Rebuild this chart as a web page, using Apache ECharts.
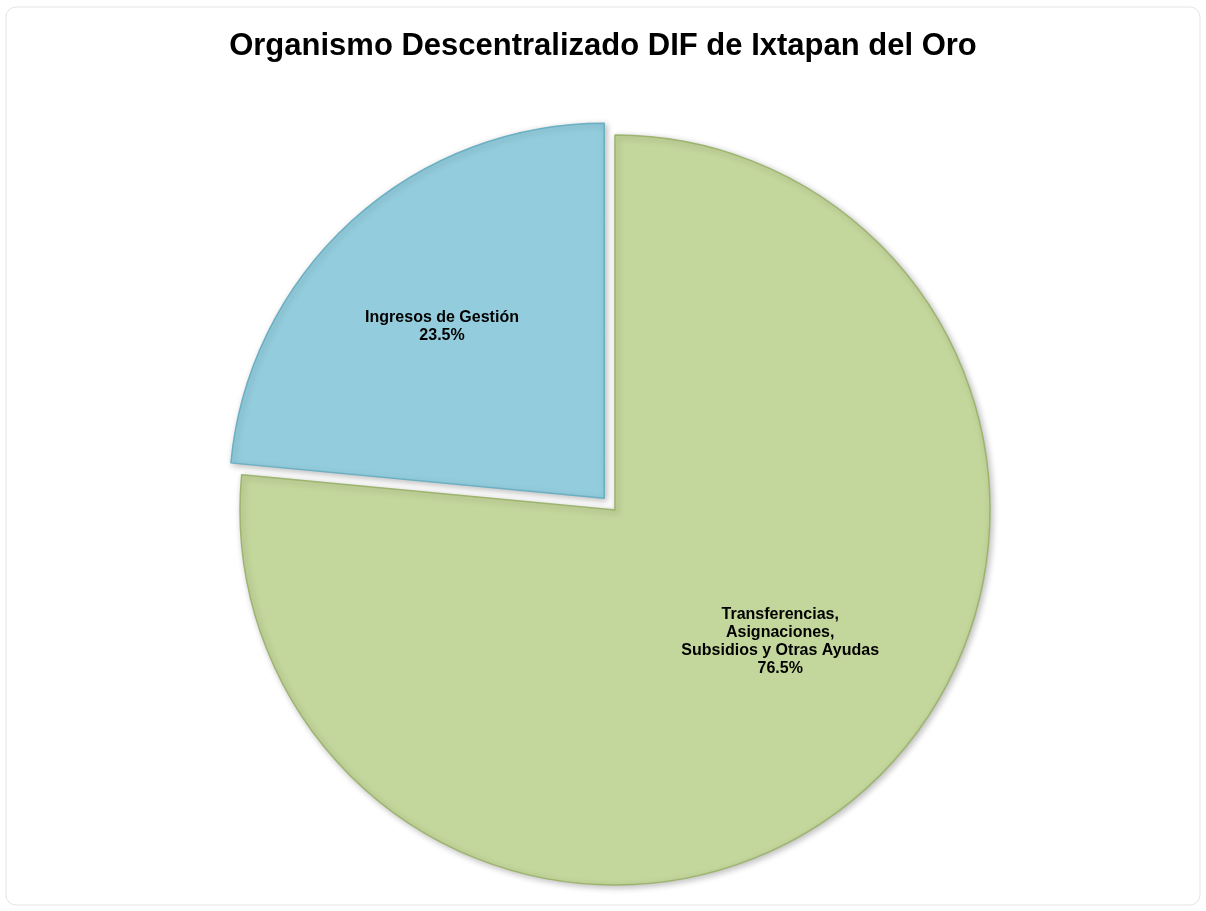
<!DOCTYPE html>
<html>
<head>
<meta charset="utf-8">
<script src="https://cdn.jsdelivr.net/npm/echarts@6/dist/echarts.min.js"></script>
<style>
html,body{margin:0;padding:0;background:#fff;}
#chart{width:1206px;height:911px;}
</style>
</head>
<body>
<div id="chart"></div>
<script>
const titleText = 'Organismo Descentralizado DIF de Ixtapan del Oro';
const categories = ['Transferencias,\nAsignaciones,\nSubsidios y Otras Ayudas', 'Ingresos de Gestión'];
const values = [76.5, 23.5];
const colors = ['#C3D69B', '#93CDDD'];
const borders = ['#9DB46E', '#6AAFC4'];
const labelShifts = [[37, -9], [-34, -31]];

const chart = echarts.init(document.getElementById('chart'), null, {renderer: 'canvas'});
const data = categories.map((c, i) => ({
  name: c,
  value: values[i],
  selected: i === 1,
  itemStyle: {color: colors[i], borderColor: borders[i], borderWidth: 1.5}
}));
chart.setOption({
  backgroundColor: '#ffffff',
  animation: false,
  graphic: [{
    type: 'rect',
    shape: {x: 6, y: 7, width: 1194, height: 898, r: 10},
    style: {fill: 'none', stroke: '#e4e4e4', lineWidth: 1},
    z: -1
  }],
  title: {
    text: titleText,
    left: 'center',
    top: 26,
    textStyle: {fontFamily: 'Liberation Sans, Arial, sans-serif', fontWeight: 'bold', fontSize: 31, color: '#000'}
  },
  series: [{
    type: 'pie',
    center: [615, 510],
    radius: 375,
    startAngle: 90,
    clockwise: true,
    selectedMode: 'single',
    selectedOffset: 16,
    data: data,
    itemStyle: {shadowBlur: 6, shadowColor: 'rgba(0,0,0,0.25)', shadowOffsetX: 2, shadowOffsetY: 2},
    label: {
      show: true,
      position: 'inside',
      formatter: '{b}\n{d}%',
      fontFamily: 'Liberation Sans, Arial, sans-serif',
      fontWeight: 'bold',
      fontSize: 16,
      lineHeight: 18,
      color: '#000',
      align: 'center'
    },
    labelLayout: function (p) {
      return {dx: labelShifts[p.dataIndex][0], dy: labelShifts[p.dataIndex][1]};
    },
    labelLine: {show: false},
    emphasis: {disabled: true}
  }]
});
</script>
</body>
</html>
